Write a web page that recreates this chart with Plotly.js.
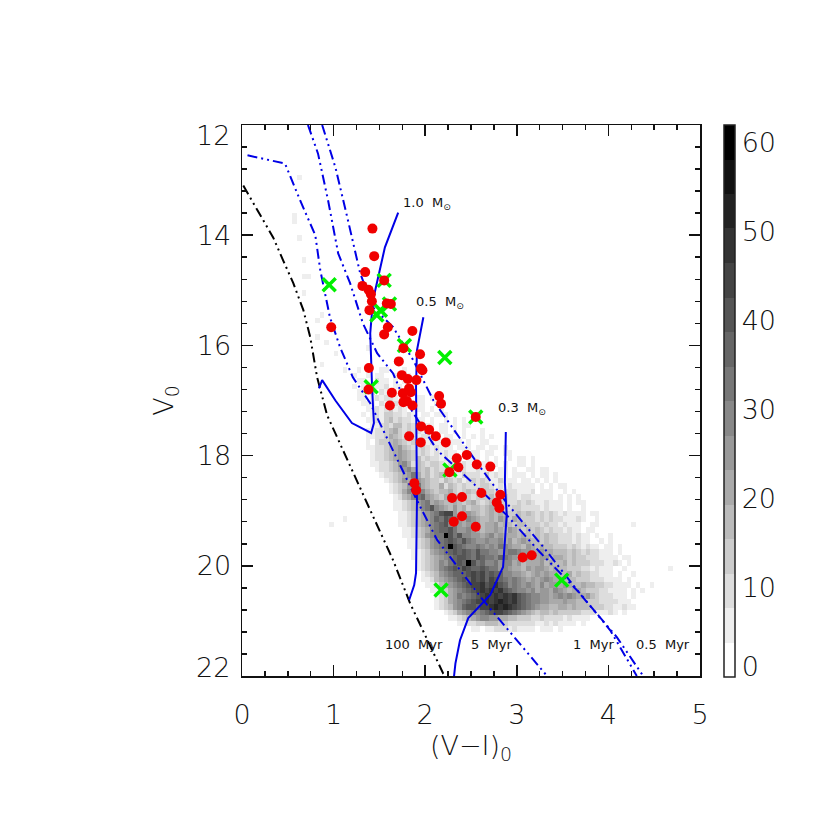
<!DOCTYPE html>
<html><head><meta charset="utf-8">
<script src="https://cdn.plot.ly/plotly-3.0.1.min.js"></script>
<style>html,body{margin:0;padding:0;background:#fff}</style></head>
<body><div id="chart" style="width:830px;height:830px"></div>
<script>
// Star counts per colour-magnitude bin (bin 0.05 x 0.1 mag), written as gray levels 0-f
const heatY = [16.4,16.5,16.6,16.7,16.8,16.9,17.0,17.1,17.2,17.3,17.4,17.5,17.6,17.7,17.8,17.9,18.0,18.1,18.2,18.3,18.4,18.5,18.6,18.7,18.8,18.9,19.0,19.1,19.2,19.3,19.4,19.5,19.6,19.7,19.8,19.9,20.0,20.1,20.2,20.3,20.4,20.5,20.6,20.7,20.8,20.9,21.0,21.1];
const heatX0 = [1.25,1.2,1.25,1.2,1.2,1.25,1.3,1.3,1.3,1.35,1.35,1.35,1.35,1.3,1.35,1.35,1.35,1.4,1.45,1.5,1.55,1.55,1.6,1.6,1.6,1.6,1.65,1.65,1.7,1.7,1.7,1.75,1.8,1.8,1.85,1.85,1.9,1.9,1.9,1.9,1.9,1.9,1.95,2.05,2.15,2.25,2.35,2.45];
const heatRows = [
"10100110001","1001011001001","1100211010110","10101112011011","011120211011010","11012122101101101",
"11102132111011001","011212312101110101","1012133221210110111","1121342322111010010101",
"01123244232121101101011","112234532322111011010100010","1122354323212211011001010101",
"01023345432322121101110100110","1122345643223212111011101101101","01223456543232121211010110110011",
"0122345654342322121110111010100101101","112234675243233212112110110101001101",
"12234567543423222132112111011010011011","122345685342343221322213121101110101101",
"12346576543324323123232113111011010101","0123467854335243232223321212111110101011",
"12357687543445323432233212221112011100101","012457896543544343233342232212211111010101",
"0112346785654454345323433322323211211101011","011234578a765464534434543323322221211101001",
"0112345678abb645654345454334343232321211110110","01123456798a9765765445465354333232322111210010",
"1123456789a786566545564543443332322121110011","01123457899a866765455654654343432322121101100",
"0112346788fa8a7766567565554543434332221211010010","0112346789a98a87667667564565443433222121100101",
"112346789fa987787676876554654544333232121101101","0112356789a9a98a887767887665565544434323221110100",
"1123456789aa98a9887987655665664554343322211110110","0123457689a9fa8977867756455564544534333222112101",
"12345789a9ba99a98867655465665454433322121110010","01234678999abab9a9977665456565544534332211101001",
"0112456789a9bab9ba9878765656765544433322211110100","00112456789abbcabca97876765756656544544332211110100",
"00011235678 9abcbcbca98776756657654554333221111 01010","0000123568789abcbcbcbca9877665676765564322211101",
"00012356789abbcbcdcbca9877665556554433322221110","01234679aa9bbcdcdcba98765544554544433322112110",
"01235678789abba98765434434333332221112101","11234567766554433322322221211110",
"1122334443322222211212111101","0110112221211110111010"].map(s=>s.replace(/ /g,''));
// isolated light bins
const sparseX = [0.625,0.6,0.6,0.625,0.675,0.675,0.725,0.675,0.85,0.825,0.825,0.9,0.95,0.875,1.025,1.125,1.35,0.975,1.1,1.15,4.675,4.475,4.275];
const sparseY = [12.9,13.6,13.7,14.0,14.4,14.7,14.7,15.0,15.4,15.5,15.8,15.9,15.9,16.3,16.1,16.4,16.0,19.2,19.1,19.1,20.0,20.3,19.2];
const gridColWidth = 0.05, gridRowHeight = 0.1, levelCount = 16, zMax = 62;

// Isochrones
const iso100X = [0.014,0.2,0.34,0.45,0.56,0.67,0.745,0.82,0.93,1.4,1.65,1.835,2.195,2.22];
const iso100Y = [13.1,13.64,14.04,14.46,14.87,15.36,15.85,16.58,17.27,18.99,19.9,20.68,21.95,22];
const iso5X = [0.06,0.47,0.635,0.8,0.855,0.96,1.07,1.21,1.4,1.91,2.13,2.63,3.33];
const iso5Y = [12.55,12.7,13.37,14.0,14.64,15.49,16.03,16.58,17.05,18.81,19.53,20.62,22];
const iso1X = [0.72,0.83,0.94,1.05,1.18,1.32,1.475,1.65,1.76,2.13,2.49,2.89,3.25,3.69,4.02,4.31];
const iso1Y = [12,12.52,13.37,14.33,14.87,15.6,16.14,16.51,16.94,17.9,18.45,19.08,19.75,20.5,21.17,22];
const iso05X = [0.875,1.02,1.15,1.29,1.43,1.65,1.87,2.09,2.57,2.89,3.29,3.72,4.09,4.38];
const iso05Y = [12,12.77,13.68,14.69,15.31,15.67,16.27,17.0,18.14,18.86,19.66,20.57,21.29,22];
// Mass tracks
const m10X = [1.705,1.56,1.43,1.4,1.42,1.43,1.44,1.41,1.2,1.02,0.875,0.84];
const m10Y = [13.59,14.22,15.18,15.78,16.76,17.0,17.41,17.59,17.41,17.0,16.63,16.78];
const m05X = [1.98,1.91,1.9,1.91,1.9,1.88,1.825];
const m05Y = [15.49,16.09,16.76,18.81,20.13,20.35,20.62];
const m03X = [2.88,2.87,2.89,2.85,2.71,2.47,2.38,2.33,2.315];
const m03Y = [17.57,18.49,19.08,20.02,20.53,20.95,21.35,21.77,22];
// Stars
const redX = [1.424,1.443,1.345,1.552,1.315,1.381,1.407,1.418,1.581,1.625,1.391,1.592,1.552,1.86,0.974,1.762,1.944,1.712,1.97,1.955,1.385,1.745,1.81,1.904,1.381,1.824,1.843,1.636,1.756,1.762,1.8,1.614,1.86,2.152,2.173,2.552,1.955,2.043,1.824,2.116,1.952,2.225,2.345,2.454,2.563,2.711,2.362,2.264,1.882,1.901,2.613,2.82,2.293,2.402,2.781,2.809,2.402,2.312,2.552,3.064,3.163];
const redY = [13.88,14.38,14.67,14.82,14.92,14.99,15.07,15.2,15.24,15.25,15.36,15.67,15.8,15.74,15.67,16.05,16.16,16.29,16.45,16.42,16.41,16.54,16.61,16.63,16.8,16.78,16.85,16.86,16.87,17.03,17.01,17.09,17.09,16.92,17.06,17.3,17.47,17.53,17.65,17.65,17.76,17.76,18.05,17.99,18.16,18.2,18.21,18.3,18.5,18.63,18.68,18.71,18.77,18.75,18.85,18.95,19.1,19.2,19.29,19.85,19.81];
const greenX = [0.952,1.552,1.61,1.511,1.472,1.773,2.214,1.41,2.552,2.27,2.173,3.49];
const greenY = [14.9,14.82,15.25,15.36,15.45,16.0,16.22,16.75,17.3,18.26,20.44,20.26];
// Labels
const labelText = ["1.0  M<sub>\u2299</sub>","0.5  M<sub>\u2299</sub>","0.3  M<sub>\u2299</sub>","100  Myr","5  Myr","1  Myr","0.5  Myr"];
const labelX = [1.759,1.9,2.795,1.563,2.5,3.613,4.3];
const labelY = [13.42,15.22,17.14,21.42,21.42,21.42,21.42];
const yTickVals = [14,16,18,20];
const yEndLabels = ["12","22"];
const yEndLabelY = [12.19,21.85];
const cbVals = [1.1,10,20,30,40,50,60];
const cbText = ["0","10","20","30","40","50","60"];

const FONT = '"DejaVu Sans ExtraLight","DejaVu Sans Light","DejaVu Sans",sans-serif';
const nCols = 100, nRows = 100;
const xc = Array.from({length:nCols},(_,i)=>(i+0.5)*gridColWidth);
const yc = Array.from({length:nRows},(_,j)=>12+(j+0.5)*gridRowHeight);
const z = yc.map(()=>new Array(nCols).fill(null));
const toVal = k => (k+0.5)*zMax/levelCount;
heatRows.forEach((s,r)=>{
  const j = Math.round((heatY[r]-12)/gridRowHeight), c0 = Math.round(heatX0[r]/gridColWidth);
  [...s].forEach((ch,i)=>{ const k=parseInt(ch,16); if(k>0 && c0+i<nCols) z[j][c0+i]=toVal(k); });
});
sparseX.forEach((x,i)=>{ z[Math.round((sparseY[i]-12)/gridRowHeight)][Math.floor(x/gridColWidth)] = toVal(1); });
const cs=[];
for(let k=0;k<levelCount;k++){const g=Math.round(255*(1-k/(levelCount-1)));const c=`rgb(${g},${g},${g})`;cs.push([k/levelCount,c],[(k+1)/levelCount,c]);}

const BLUE='#0000e6', DD='10px,4px,2px,4px,2px,4px';
const line=(x,y,color,dash)=>({type:'scatter',mode:'lines',x,y,line:{color,width:2,dash},hoverinfo:'skip',showlegend:false});
const traces=[
 {type:'heatmap',x:xc,y:yc,z,zmin:0,zmax:zMax,colorscale:cs,hoverinfo:'skip',hoverongaps:false,
  colorbar:{thickness:11,lenmode:'pixels',len:552,x:1.0524,xanchor:'left',xpad:0,ypad:0,y:0.5,yanchor:'middle',
   outlinewidth:1.5,outlinecolor:'#222',tickmode:'array',tickvals:cbVals,ticktext:cbText,ticks:'',
   tickfont:{family:FONT,size:27,color:'#111'}}},
 line(iso100X,iso100Y,'#000',DD),line(iso5X,iso5Y,BLUE,DD),line(iso1X,iso1Y,BLUE,DD),line(iso05X,iso05Y,BLUE,DD),
 line(m10X,m10Y,BLUE,'solid'),line(m05X,m05Y,BLUE,'solid'),line(m03X,m03Y,BLUE,'solid'),
 {type:'scatter',mode:'markers',x:greenX,y:greenY,marker:{symbol:'x-thin',size:13,line:{color:'#00f000',width:3.5}},hoverinfo:'skip',showlegend:false},
 {type:'scatter',mode:'markers',x:redX,y:redY,marker:{symbol:'circle',size:10,color:'#f00000'},hoverinfo:'skip',showlegend:false}
];
const axisBase={showgrid:false,zeroline:false,showline:true,linecolor:'#111',linewidth:1.5,mirror:'ticks',ticks:'inside',tickcolor:'#111',tickwidth:1.5,ticklen:11,
  tickfont:{family:FONT,size:27,color:'#111'}};
const layout={width:830,height:830,autosize:false,paper_bgcolor:'#fff',plot_bgcolor:'#fff',showlegend:false,
 margin:{l:241.7,r:130,t:124.5,b:154,pad:0},
 xaxis:Object.assign({},axisBase,{range:[0,5],dtick:1,tick0:0,ticklabelstandoff:14,minor:{dtick:0.25,ticks:'inside',ticklen:5,tickwidth:1.5,tickcolor:'#111'},
   title:{text:'(V\u2212I)<sub>0</sub>',font:{family:FONT,size:27,color:'#111'},standoff:6}}),
 yaxis:Object.assign({},axisBase,{range:[22,12],tickmode:'array',tickvals:yTickVals,ticklabelstandoff:4,minor:{tick0:12,dtick:0.4,ticks:'inside',ticklen:5,tickwidth:1.5,tickcolor:'#111'},
   title:{text:'V<sub>0</sub>',font:{family:FONT,size:27,color:'#111'},standoff:15}}),
 annotations:labelText.map((t,i)=>({x:labelX[i],y:labelY[i],xref:'x',yref:'y',text:t,showarrow:false,xanchor:'left',yanchor:'middle',xshift:-2,
   font:{family:'"DejaVu Sans",sans-serif',size:13,color:'#111'}})).concat(
   yEndLabels.map((t,i)=>({x:0,y:yEndLabelY[i],xref:'paper',yref:'y',text:t,showarrow:false,xanchor:'right',yanchor:'middle',xshift:-10,
   font:{family:FONT,size:27,color:'#111'}})))
};
Plotly.newPlot('chart',traces,layout,{displayModeBar:false,staticPlot:true});
</script></body></html>
